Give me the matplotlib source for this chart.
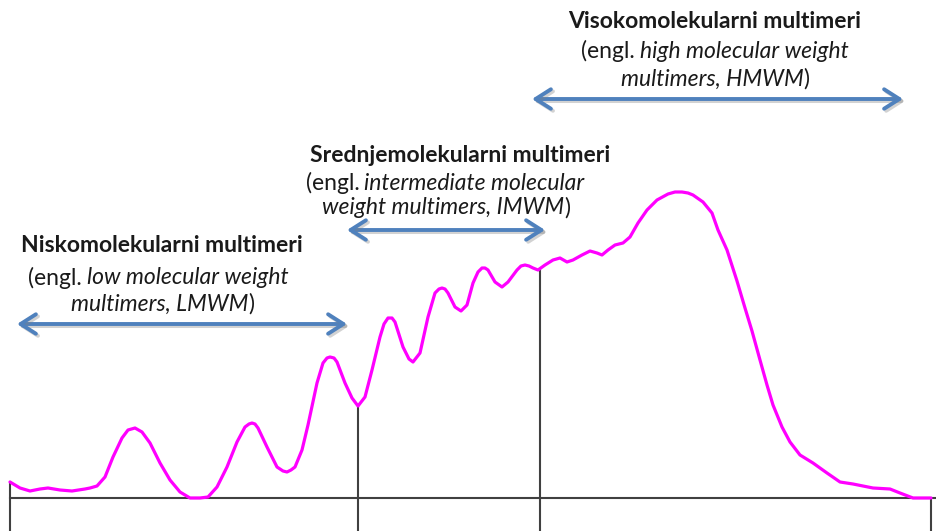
"""
von Willebrand factor multimer profile: low / intermediate / high molecular weight regions
"""
import matplotlib
matplotlib.use("Agg")
import matplotlib.pyplot as plt
import matplotlib.patheffects as pe
from matplotlib.patches import FancyArrowPatch

# ============================================================
# Data (image-pixel coordinates)
# ============================================================
curve_x = [10, 20, 30, 40, 48, 60, 72, 85, 90, 97, 105, 113, 122, 128, 135, 142, 150, 160,
           170, 180, 190, 200, 208, 217, 227, 237, 245, 249, 252, 255, 258, 267, 277, 283, 287,
           291, 295, 302, 308, 317, 323, 327, 330, 334, 337, 345, 352, 358, 365, 372, 380, 384,
           388, 392, 395, 403, 409, 413, 420, 428, 435, 439, 442, 445, 448, 455, 461, 467, 473,
           478, 482, 485, 488, 495, 502, 508, 517, 521, 525, 529, 533, 538, 545, 553, 560, 567,
           573, 582, 590, 597, 602, 608, 615, 623, 630, 638, 647, 657, 668, 675, 682, 688, 693,
           703, 712, 718, 727, 737, 745, 752, 760, 767, 773, 782, 790, 800, 813, 827, 840, 853,
           873, 890, 900, 913, 931]
curve_y = [482, 488, 491, 489, 488, 490, 491, 489, 488, 486, 477, 457, 438, 430, 428, 432, 443, 463,
           480, 492, 498, 498, 497, 487, 467, 442, 427, 424, 423, 424, 428, 447, 467, 471, 472,
           470, 467, 450, 425, 383, 363, 358, 357, 358, 362, 383, 398, 406, 397, 370, 337, 324,
           318, 318, 322, 347, 359, 362, 353, 317, 293, 289, 288, 289, 293, 307, 311, 305, 283,
           272, 268, 268, 270, 282, 287, 282, 270, 266, 265, 266, 268, 270, 265, 260, 258, 262,
           260, 255, 251, 253, 255, 250, 245, 243, 237, 223, 210, 200, 194, 192, 192, 193, 195,
           202, 213, 230, 250, 281, 308, 331, 360, 385, 405, 427, 442, 455, 463, 473, 482, 484,
           488, 489, 493, 498, 498]

# Section dividers: x position and top of each vertical line
divider_x = [10, 358, 540, 931]
divider_top = [482, 406, 270, 498]
baseline_y = 498

# Double-headed range arrows: (x_start, x_end, y)
arrow_x0 = [17, 347, 532]
arrow_x1 = [347, 545, 903]
arrow_y = [324, 230, 99]

# Text labels
titles = ["Niskomolekularni multimeri",
          "Srednjemolekularni multimeri",
          "Visokomolekularni multimeri"]
subtitles = [
    [[("(engl.", "normal"), ("low molecular weight", "italic")],
     [("multimers, LMWM", "italic"), (")", "normal")]],
    [[("(engl.", "normal"), ("intermediate molecular", "italic")],
     [("weight multimers, IMWM", "italic"), (")", "normal")]],
    [[("(engl.", "normal"), ("high molecular weight", "italic")],
     [("multimers, HMWM", "italic"), (")", "normal")]],
]
label_x = [[162, 158, 163], [460, 445, 446], [715, 715, 715]]
label_y = [[246, 278, 304], [155, 183, 208], [22, 51, 79]]

FONT = ["Lato", "DejaVu Sans"]
FS = 16.5

# ============================================================
# Figure
# ============================================================
W, H = 936, 531
fig = plt.figure(figsize=(W / 100, H / 100), dpi=100)
ax = fig.add_axes([0, 0, 1, 1])
ax.set_xlim(0, W)
ax.set_ylim(H, 0)
ax.axis("off")

line_col = "#404040"
ax.plot([divider_x[0], W], [baseline_y, baseline_y], color=line_col, lw=1.5, zorder=1)
for x, top in zip(divider_x, divider_top):
    ax.plot([x, x], [top, H], color=line_col, lw=1.5, zorder=1)

ax.plot(curve_x, curve_y, color="#FF00FF", lw=2.3, solid_joinstyle="round",
        solid_capstyle="round", zorder=3)

for x0, x1, y in zip(arrow_x0, arrow_x1, arrow_y):
    arr = FancyArrowPatch((x0, y), (x1, y),
                          arrowstyle="<->,head_length=0.55,head_width=0.35",
                          mutation_scale=20, color="#4F81BD", lw=2.8,
                          shrinkA=0, shrinkB=0, zorder=4)
    arr.set_path_effects([pe.SimpleLineShadow(offset=(1.5, -1.5), shadow_color="gray", alpha=0.35),
                          pe.Normal()])
    ax.add_patch(arr)

renderer = fig.canvas.get_renderer()


def mixed_line(x, y, parts):
    """Centre a line made of differently styled pieces at (x, y)."""
    gap = FS * 0.3
    texts, widths = [], []
    for s, style in parts:
        t = ax.text(0, y, s, fontsize=FS, fontstyle=style, family=FONT,
                    ha="left", va="center", color="#1a1a1a")
        texts.append(t)
        widths.append(t.get_window_extent(renderer).width)
    # no gap before a closing bracket
    gaps = [0 if s == ")" else gap for s, _ in parts[1:]]
    total = sum(widths) + sum(gaps)
    pos = x - total / 2
    for i, (t, w) in enumerate(zip(texts, widths)):
        t.set_x(pos)
        pos += w + (gaps[i] if i < len(gaps) else 0)


for i, title in enumerate(titles):
    ax.text(label_x[i][0], label_y[i][0], title, fontsize=FS, fontweight="bold",
            family=FONT, ha="center", va="center", color="#1a1a1a")
    for j, parts in enumerate(subtitles[i]):
        mixed_line(label_x[i][j + 1], label_y[i][j + 1], parts)

fig.savefig("out.png", dpi=100)
